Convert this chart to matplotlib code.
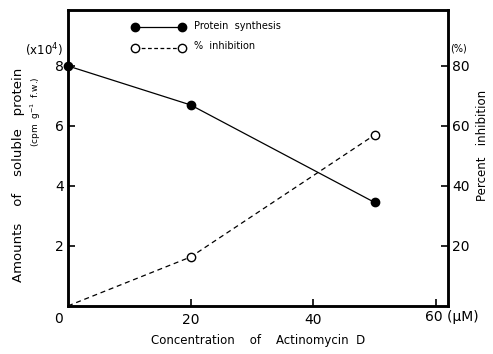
import numpy as np
import matplotlib
matplotlib.use("Agg")
import matplotlib.pyplot as plt

# data
conc = [0, 20, 50]
protein = [8.0, 6.7, 3.45]          # x10^4 cpm g-1 f.w.
inhib_conc = [0, 20, 50]
inhibition = [0, 16.3, 57.0]         # percent

x_ticks = [20, 40, 60]
x_labels = ["20", "40", ""]
y_ticks = [2, 4, 6, 8]
r_ticks = [20, 40, 60, 80]

plt.rcParams['font.family'] = 'DejaVu Sans'

fig = plt.figure(figsize=(4.93, 3.54), dpi=100)
ax = fig.add_axes([0.138, 0.136, 0.771, 0.836])
ax2 = ax.twinx()

ax.plot(conc, protein, "k-", lw=0.9, marker="o", ms=6, mfc="k", mec="k", clip_on=False, zorder=5)
ax2.plot(inhib_conc[1:], inhibition[1:], ls="none", marker="o", ms=6, mfc="white", mec="k", mew=1.0, clip_on=False, zorder=5)
ax2.plot(inhib_conc, inhibition, "k--", lw=0.9, dashes=(4, 3))

ax.set_xlim(0, 62)
ax.set_ylim(0, 9.87)
ax2.set_ylim(0, 98.7)

ax.set_xticks(x_ticks)
ax.set_xticklabels(x_labels)
ax.set_yticks(y_ticks)
ax2.set_yticks(r_ticks)

for a in (ax, ax2):
    a.tick_params(direction="in", length=5, width=1.2, labelsize=10, pad=3)
    for s in a.spines.values():
        s.set_linewidth(1.8)
ax.tick_params(axis="x", pad=5)

fig.text(0.118, 0.10, "0", fontsize=10, ha="center", va="center")
fig.text(0.862, 0.105, "60 (\u00b5M)", fontsize=10, ha="left", va="center")

ax.set_xlabel("Concentration    of    Actinomycin  D", fontsize=8.5, labelpad=5)
fig.text(0.038, 0.505, "Amounts    of    soluble   protein", rotation=90, fontsize=9.5, ha="center", va="center")
fig.text(0.072, 0.685, "(cpm  g$^{-1}$  f.w.)", rotation=90, fontsize=6.5, ha="center", va="center")
fig.text(0.09, 0.858, "(x10$^4$)", fontsize=8.5, ha="center", va="center")
fig.text(0.93, 0.862, "(%)", fontsize=7, ha="center", va="center")
fig.text(0.978, 0.59, "Percent   inhibition", rotation=90, fontsize=8.5, ha="center", va="center")

# legend drawn by hand at the top
leg_ax = fig.add_axes([0, 0, 1, 1], facecolor="none")
leg_ax.set_xlim(0, 493)
leg_ax.set_ylim(354, 0)
leg_ax.axis("off")
leg_ax.plot([135, 182], [27, 27], "k-", lw=0.9, marker="o", ms=6, mfc="k", mec="k")
leg_ax.plot([135, 182], [48, 48], "k--", lw=0.9, dashes=(3, 2), marker="o", ms=6, mfc="white", mec="k")
leg_ax.text(194, 26, "Protein  synthesis", fontsize=7, va="center")
leg_ax.text(194, 46, "%  inhibition", fontsize=7, va="center")

fig.savefig("out.png", dpi=100)
